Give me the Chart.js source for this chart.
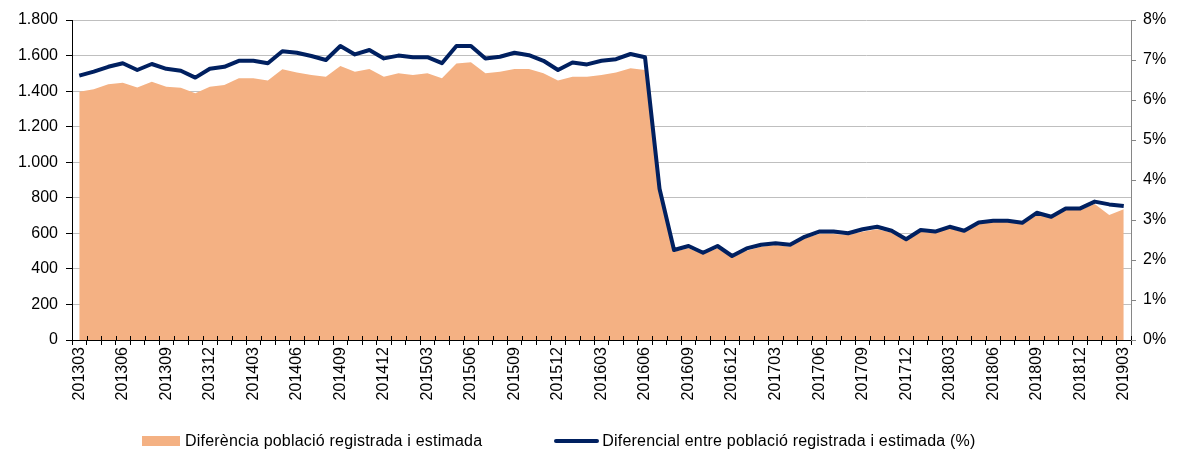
<!DOCTYPE html>
<html>
<head>
<meta charset="utf-8">
<script src="https://cdn.jsdelivr.net/npm/chart.js@4"></script>
<style>
  body { margin: 0; background: #fff; }
  #wrap { position: relative; width: 1181px; height: 449px; overflow: hidden; }
  #legend {
    position: absolute; left: 142px; top: 432px;
    display: flex; gap: 72px; align-items: center;
    font: 16px "Liberation Sans", Arial, sans-serif; letter-spacing: 0.2px; color: #000;
    white-space: nowrap;
  }
  #legend .item { display: flex; align-items: center; }
  #legend .box { display: inline-block; margin-right: 5px; }
</style>
</head>
<body>
<div id="wrap">
  <canvas id="chart" width="1181" height="449"></canvas>
  <div id="legend"></div>
</div>
<script>
// mesos (aaaamm)
const periods = [
  '201303','201304','201305','201306','201307','201308','201309','201310','201311','201312',
  '201401','201402','201403','201404','201405','201406','201407','201408','201409','201410','201411','201412',
  '201501','201502','201503','201504','201505','201506','201507','201508','201509','201510','201511','201512',
  '201601','201602','201603','201604','201605','201606','201607','201608','201609','201610','201611','201612',
  '201701','201702','201703','201704','201705','201706','201707','201708','201709','201710','201711','201712',
  '201801','201802','201803','201804','201805','201806','201807','201808','201809','201810','201811','201812',
  '201901','201902','201903'
];

// diferència població registrada i estimada (persones)
const diferencia = [
  1397, 1410, 1438, 1447, 1421, 1453, 1425, 1419, 1388, 1425, 1434, 1472, 1472, 1460,
  1523, 1504, 1491, 1481, 1541, 1509, 1524, 1481, 1500, 1491, 1500, 1472, 1556, 1562,
  1500, 1509, 1524, 1524, 1500, 1459, 1481, 1481, 1491, 1504, 1528, 1519,
  820, 497, 516, 484, 516, 465, 502, 525, 534, 525, 572, 596, 596, 591, 609, 623, 604,
  557, 609, 600, 628, 605, 656, 665, 665, 652, 707, 688, 731, 731, 765, 703, 735
];

// diferencial en %
const diferencial = [
  6.61, 6.71, 6.83, 6.92, 6.75, 6.90, 6.78, 6.73, 6.56, 6.78, 6.83, 6.98, 6.98, 6.92,
  7.22, 7.18, 7.10, 7.00, 7.35, 7.14, 7.25, 7.04, 7.11, 7.07, 7.07, 6.92, 7.35, 7.35,
  7.04, 7.08, 7.18, 7.12, 6.98, 6.75, 6.94, 6.89, 6.98, 7.02, 7.15, 7.07,
  3.78, 2.25, 2.35, 2.18, 2.35, 2.10, 2.29, 2.38, 2.42, 2.38, 2.58, 2.71, 2.71, 2.67, 2.77, 2.83, 2.73,
  2.52, 2.75, 2.71, 2.83, 2.73, 2.94, 2.98, 2.98, 2.93, 3.18, 3.08, 3.29, 3.29, 3.46, 3.39, 3.35
];

const leftTicks = { min: 0, max: 1800, step: 200 };
const rightTicks = { min: 0, max: 8, step: 1 };

const ORANGE = '#F4B183';
const NAVY = '#002060';

Chart.defaults.font.family = '"Liberation Sans", Arial, sans-serif';
Chart.defaults.color = '#000';

function thousands(v) {
  return String(v).replace(/\B(?=(\d{3})+(?!\d))/g, '.');
}

// legend as html, built from chart's own legend items
const htmlLegend = {
  id: 'htmlLegend',
  afterUpdate(chart) {
    const el = document.getElementById('legend');
    el.innerHTML = '';
    const items = chart.options.plugins.legend.labels.generateLabels(chart);
    items.sort(function (a, b) { return a.datasetIndex - b.datasetIndex; });
    items.forEach(function (it) {
      const li = document.createElement('span');
      li.className = 'item';
      const box = document.createElement('span');
      box.className = 'box';
      if (it.datasetIndex === 0) {
        box.style.width = '38px';
        box.style.height = '10px';
        box.style.background = it.fillStyle;
      } else {
        box.style.width = '45px';
        box.style.height = '4px';
        box.style.borderRadius = '2px';
        box.style.background = it.strokeStyle;
        box.style.marginRight = '3px';
      }
      const txt = document.createElement('span');
      txt.textContent = it.text;
      li.appendChild(box);
      li.appendChild(txt);
      el.appendChild(li);
    });
  }
};

// tick marks on the category axis cross the axis line (inner half)
const crossTicks = {
  id: 'crossTicks',
  afterDatasetsDraw(chart) {
    const x = chart.scales.x;
    const c = chart.ctx;
    const half = (x.getPixelForValue(1) - x.getPixelForValue(0)) / 2;
    c.save();
    c.strokeStyle = '#000';
    c.lineWidth = 1;
    c.beginPath();
    for (let i = 0; i <= periods.length; i++) {
      const px = Math.round(x.getPixelForValue(i) - half) + 0.5;
      c.moveTo(px, x.top - 4);
      c.lineTo(px, x.top);
    }
    c.stroke();
    c.restore();
  }
};

const ctx = document.getElementById('chart');
new Chart(ctx, {
  type: 'line',
  data: {
    labels: periods,
    datasets: [
      {
        label: 'Diferència població registrada i estimada',
        data: diferencia,
        yAxisID: 'y',
        backgroundColor: ORANGE,
        borderColor: ORANGE,
        borderWidth: 0,
        fill: 'origin',
        pointRadius: 0,
        tension: 0,
        order: 1
      },
      {
        label: 'Diferencial entre població registrada i estimada (%)',
        data: diferencial,
        yAxisID: 'y1',
        borderColor: NAVY,
        backgroundColor: NAVY,
        borderWidth: 4,
        borderJoinStyle: 'round',
        fill: false,
        pointRadius: 0,
        tension: 0,
        order: 0
      }
    ]
  },
  plugins: [htmlLegend, crossTicks],
  options: {
    responsive: false,
    devicePixelRatio: 1,
    animation: false,
    layout: { padding: { top: 20, left: 0, right: 0, bottom: 0 } },
    plugins: {
      tooltip: { enabled: false },
      legend: { display: false }
    },
    scales: {
      x: {
        offset: true,
        grid: {
          offset: true,
          drawOnChartArea: false,
          color: '#000',
          tickLength: 5
        },
        border: { color: '#000', width: 1 },
        ticks: {
          autoSkip: false,
          minRotation: 90,
          maxRotation: 90,
          padding: 2,
          font: { size: 16 },
          callback: function (val, idx) {
            return idx % 3 === 0 ? periods[idx] : '';
          }
        },
        afterFit: function (s) { s.height = 109; }
      },
      y: {
        position: 'left',
        min: leftTicks.min,
        max: leftTicks.max,
        ticks: {
          stepSize: leftTicks.step,
          padding: 8,
          font: { size: 16 },
          callback: function (v) { return thousands(v); }
        },
        grid: { color: '#bfbfbf', tickColor: '#000', tickLength: 6 },
        border: { color: '#000', width: 1 },
        afterFit: function (s) { s.width = 72; }
      },
      y1: {
        position: 'right',
        min: rightTicks.min,
        max: rightTicks.max,
        ticks: {
          stepSize: rightTicks.step,
          padding: 7,
          font: { size: 16 },
          callback: function (v) { return v + '%'; }
        },
        grid: { drawOnChartArea: false, color: '#868686', tickLength: 5 },
        border: { color: '#868686', width: 1 },
        afterFit: function (s) { s.width = 50; }
      }
    }
  }
});
</script>
</body>
</html>
